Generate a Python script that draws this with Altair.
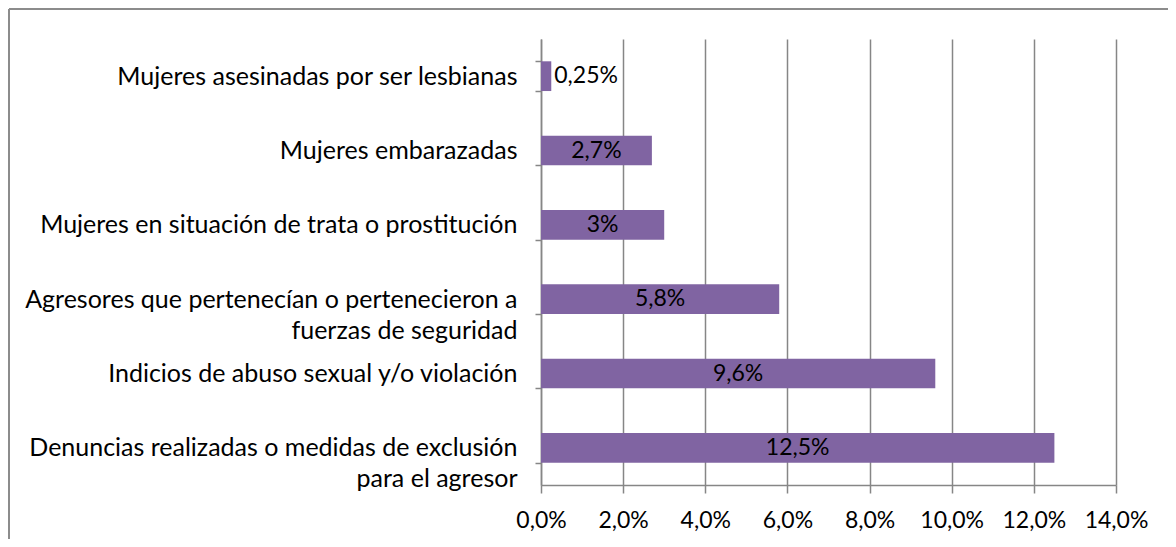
import altair as alt
import pandas as pd

categories = [
    "Mujeres asesinadas por ser lesbianas",
    "Mujeres embarazadas",
    "Mujeres en situación de trata o prostitución",
    "Agresores que pertenecían o pertenecieron a|fuerzas de seguridad",
    "Indicios de abuso sexual y/o violación",
    "Denuncias realizadas o medidas de exclusión|para el agresor",
]
values = [0.25, 2.7, 3.0, 5.8, 9.6, 12.5]
value_labels = ["0,25%", "2,7%", "3%", "5,8%", "9,6%", "12,5%"]
x_ticks = [0, 2, 4, 6, 8, 10, 12, 14]

df = pd.DataFrame({"cat": categories, "value": values, "label": value_labels})
df["mid"] = df["value"] / 2

FONT = "Lato"
FS_Y = 25
FS = 23
W, H = 575, 446
GRAY = "#868686"

y_enc = alt.Y(
    "cat:N",
    sort=categories,
    scale=alt.Scale(paddingInner=0.6, paddingOuter=0.3),
    axis=alt.Axis(
        title=None,
        labelExpr="split(datum.label, '|')",
        labelFont=FONT,
        labelFontSize=FS_Y,
        labelColor="#000000",
        labelLineHeight=31,
        labelPadding=18,
        labelLimit=600,
        tickBand="extent",
        tickSize=6,
        tickColor=GRAY,
        tickWidth=1.5,
        domainColor=GRAY,
        domainWidth=1.5,
        grid=False,
    ),
)

x_scale = alt.Scale(domain=[0, 14], nice=False)

bars = alt.Chart(df).mark_bar(color="#8064A2").encode(
    x=alt.X(
        "value:Q",
        scale=x_scale,
        axis=alt.Axis(
            title=None,
            values=x_ticks,
            labelExpr="replace(format(datum.value, '.1f'), '.', ',') + '%'",
            labelFont=FONT,
            labelFontSize=FS,
            labelColor="#000000",
            labelPadding=16,
            labelOverlap=False,
            labelFlush=False,
            tickSize=8,
            tickColor=GRAY,
            tickWidth=1.5,
            domainColor=GRAY,
            domainWidth=1.5,
            grid=True,
            gridColor=GRAY,
            gridWidth=1.5,
        ),
    ),
    y=y_enc,
)

inner_text = alt.Chart(df).transform_filter("datum.value >= 1").mark_text(
    font=FONT, fontSize=FS, color="#000000", align="center", baseline="middle"
).encode(
    x=alt.X("mid:Q", scale=x_scale),
    y=alt.Y("cat:N", sort=categories),
    text="label:N",
)

outer_text = alt.Chart(df).transform_filter("datum.value < 1").mark_text(
    font=FONT, fontSize=FS, color="#000000", align="left", baseline="middle", dx=3
).encode(
    x=alt.X("value:Q", scale=x_scale),
    y=alt.Y("cat:N", sort=categories),
    text="label:N",
)

frame_left = alt.Chart(df).mark_rule(color="#8c8c8c", strokeWidth=2).encode(
    x=alt.value(-532), y=alt.value(-30), y2=alt.value(H + 60)
)
frame_top = alt.Chart(df).mark_rule(color="#8c8c8c", strokeWidth=2).encode(
    x=alt.value(-532), x2=alt.value(W + 60), y=alt.value(-30)
)

chart = alt.layer(bars, inner_text, outer_text, frame_left, frame_top).properties(
    width=W,
    height=H,
    autosize=alt.AutoSizeParams(type="none"),
    padding={"left": 533, "top": 31, "right": 52, "bottom": 54},
).configure_view(stroke=None)

chart.save("out.html", embed_options={"renderer": "svg", "actions": False})
